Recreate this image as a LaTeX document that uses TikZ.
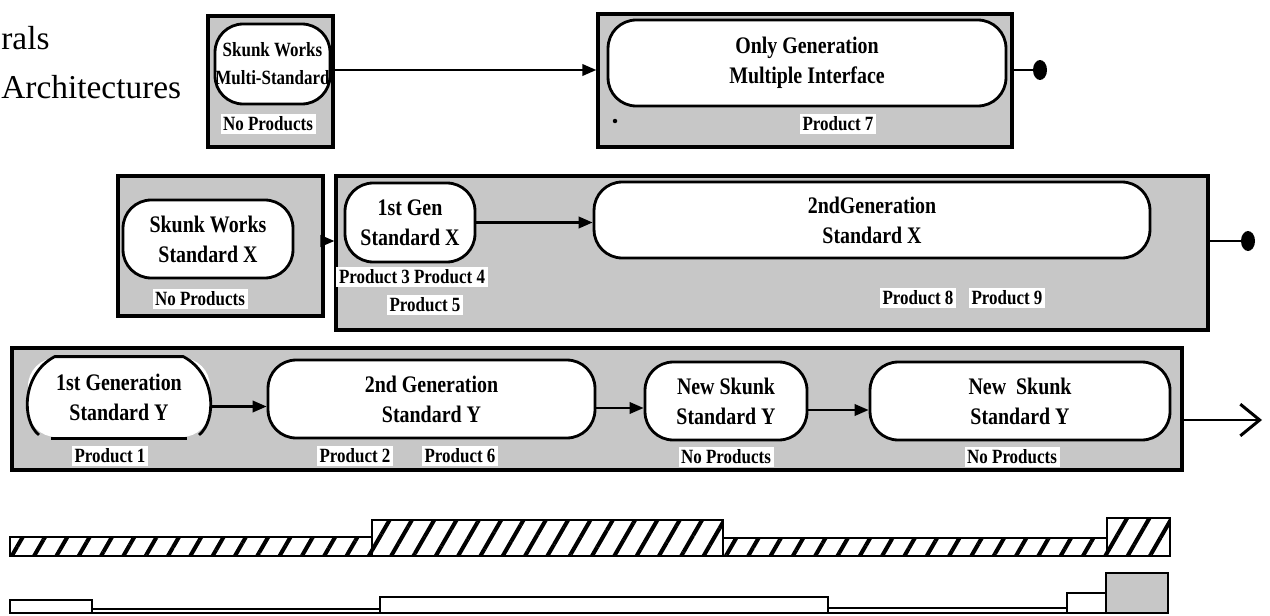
\documentclass[tikz,border=0pt]{standalone}
\usepackage{fontspec}
\setmainfont{Liberation Serif}
\newfontfamily\boxfont[FakeStretch=0.84]{Liberation Serif}
\usetikzlibrary{arrows.meta,patterns.meta,shapes.geometric}
\begin{document}
\begin{tikzpicture}[x=0.02cm,y=-0.02cm,
 outer/.style={draw,line width=1.9pt,fill=black!22,inner sep=0pt},
 gen/.style={draw,line width=1.6pt,fill=white,rounded corners=16pt,align=center,inner sep=0pt,font=\boxfont\bfseries\fontsize{13.5}{17}\selectfont},
 small/.style={font=\boxfont\bfseries\fontsize{11.5}{16}\selectfont},
 prod/.style={fill=white,inner sep=1.5pt,font=\boxfont\bfseries\fontsize{11.5}{13}\selectfont},
 flow/.style={line width=1.4pt,-{Triangle[length=8pt,width=6.5pt]}},
 tail/.style={line width=1.4pt},
 edge/.style={line width=1.6pt},
 enddot/.style={ellipse,fill=black,minimum width=0.28cm,minimum height=0.4cm,inner sep=0pt},
 title/.style={inner sep=0pt,font=\fontsize{19}{20}\selectfont},
 hatch/.style={draw,line width=1.5pt,pattern={Lines[angle=60,distance=11pt,line width=2.3pt]}},
 plainbar/.style={draw,line width=1.5pt,fill=white},
 stipple/.style={draw,line width=1.5pt,fill=black!22}
]
\useasboundingbox (0,0) rectangle (1270,615);

% titles
\node[title,anchor=base west] (t1) at (1,50) {rals};
\node[title,anchor=base west] (t2) at (1,98) {Architectures};

% top row
\node[outer,minimum width=2.5cm,minimum height=2.62cm] (A) at (270.5,81.5) {};
\node[gen,small,minimum width=2.3cm,minimum height=1.6cm] (A1) at (272.5,64) {Skunk Works\\Multi-Standard};
\node[prod] (Ap) at (268,124) {No Products};

\node[outer,minimum width=8.28cm,minimum height=2.66cm] (B) at (805,80.5) {};
\node[gen,minimum width=7.96cm,minimum height=1.72cm] (B1) at (807,63) {Only Generation\\Multiple Interface};
\node[prod] (Bp) at (838,124) {Product 7};
\node[circle,fill=black,inner sep=0pt,minimum size=0.09cm] (Bspot) at (615,121) {};
\node[enddot] (Bdot) at (1040,70) {};

\draw[flow] ([yshift=0.23cm]A.east) -- ([yshift=0.23cm]A.east -| B.west);
\draw[tail] (Bdot.west -| B.east) -- (Bdot.west);

% middle row
\node[outer,minimum width=4.1cm,minimum height=2.8cm] (C) at (220.5,246) {};
\node[gen,minimum width=3.4cm,minimum height=1.56cm] (C1) at (208,239) {Skunk Works\\Standard X};
\node[prod] (Cp) at (200,299) {No Products};

\node[outer,minimum width=17.44cm,minimum height=3.08cm] (D) at (772,253) {};
\node[gen,minimum width=2.6cm,minimum height=1.58cm] (D1) at (410,222.5) {1st Gen\\Standard X};
\node[gen,minimum width=11.12cm,minimum height=1.52cm] (D2) at (872,220) {2ndGeneration\\Standard X};
\node[prod] (Dp34) at (412,277) {Product 3 Product 4};
\node[prod] (Dp5) at (425,305) {Product 5};
\node[prod] (Dp8) at (918,298) {Product 8};
\node[prod] (Dp9) at (1007,298) {Product 9};
\node[enddot] (Ddot) at (1248,241) {};

\draw[flow] ([yshift=0.1cm]C.east) -- ([yshift=0.1cm]C.east -| D.west);
\draw[flow] (D1.east) -- (D1.east -| D2.west);
\draw[tail] (Ddot.west -| D.east) -- (Ddot.west);

% bottom row
\node[outer,minimum width=23.4cm,minimum height=2.44cm] (E) at (597,409) {};
\node[gen,draw=none,minimum width=3.64cm,minimum height=1.58cm] (E1) at (119,397.5) {1st Generation\\Standard Y};
\draw[edge] ([xshift=7pt,yshift=2pt]E1.south west)
  .. controls ([xshift=-3pt,yshift=10pt]E1.south west) and ([xshift=-3pt,yshift=-10pt]E1.north west) .. ([xshift=16pt]E1.north west)
  -- ([xshift=-16pt]E1.north east)
  .. controls ([xshift=3pt,yshift=-10pt]E1.north east) and ([xshift=3pt,yshift=10pt]E1.south east) .. ([xshift=-7pt,yshift=2pt]E1.south east);
\draw[edge] ([xshift=14pt]E1.south west) -- ([xshift=-14pt]E1.south east);
\node[gen,minimum width=6.54cm,minimum height=1.56cm] (E2) at (431.5,399) {2nd Generation\\Standard Y};
\node[gen,minimum width=3.24cm,minimum height=1.56cm] (E3) at (726,401) {New Skunk\\Standard Y};
\node[gen,minimum width=6.0cm,minimum height=1.56cm] (E4) at (1020,401) {New\ \ Skunk\\Standard Y};
\node[prod] (Ep1) at (110,456) {Product 1};
\node[prod] (Ep2) at (355,456) {Product 2};
\node[prod] (Ep6) at (460,456) {Product 6};
\node[prod] (Ep3) at (726,457) {No Products};
\node[prod] (Ep4) at (1012,457) {No Products};
\coordinate (Eend) at (1262,420);

\draw[flow] ([yshift=-0.18cm]E1.east) -- ([yshift=-0.18cm]E1.east -| E2.west);
\draw[flow] ([yshift=-0.18cm]E2.east) -- ([yshift=-0.18cm]E2.east -| E3.west);
\draw[flow] ([yshift=-0.18cm]E3.east) -- ([yshift=-0.18cm]E3.east -| E4.west);
\draw[line width=1.7pt,-{Straight Barb[length=11pt,width=18pt,line width=1.7pt]}] (Eend -| E.east) -- (Eend);

% hatched bar
\draw[hatch] (10,537) rectangle (372,556);
\draw[hatch] (372,520) rectangle (723,556);
\draw[hatch] (723,538) rectangle (1107,556);
\draw[hatch] (1107,518) rectangle (1170,556);

% plain bar
\draw[plainbar] (10,600) rectangle (92,613);
\draw[plainbar] (92,609) rectangle (380,613);
\draw[plainbar] (380,597) rectangle (828,613);
\draw[plainbar] (828,608) rectangle (1067,613);
\draw[plainbar] (1067,593) rectangle (1106,613);
\draw[stipple] (1106,573) rectangle (1168,613);
\end{tikzpicture}
\end{document}
